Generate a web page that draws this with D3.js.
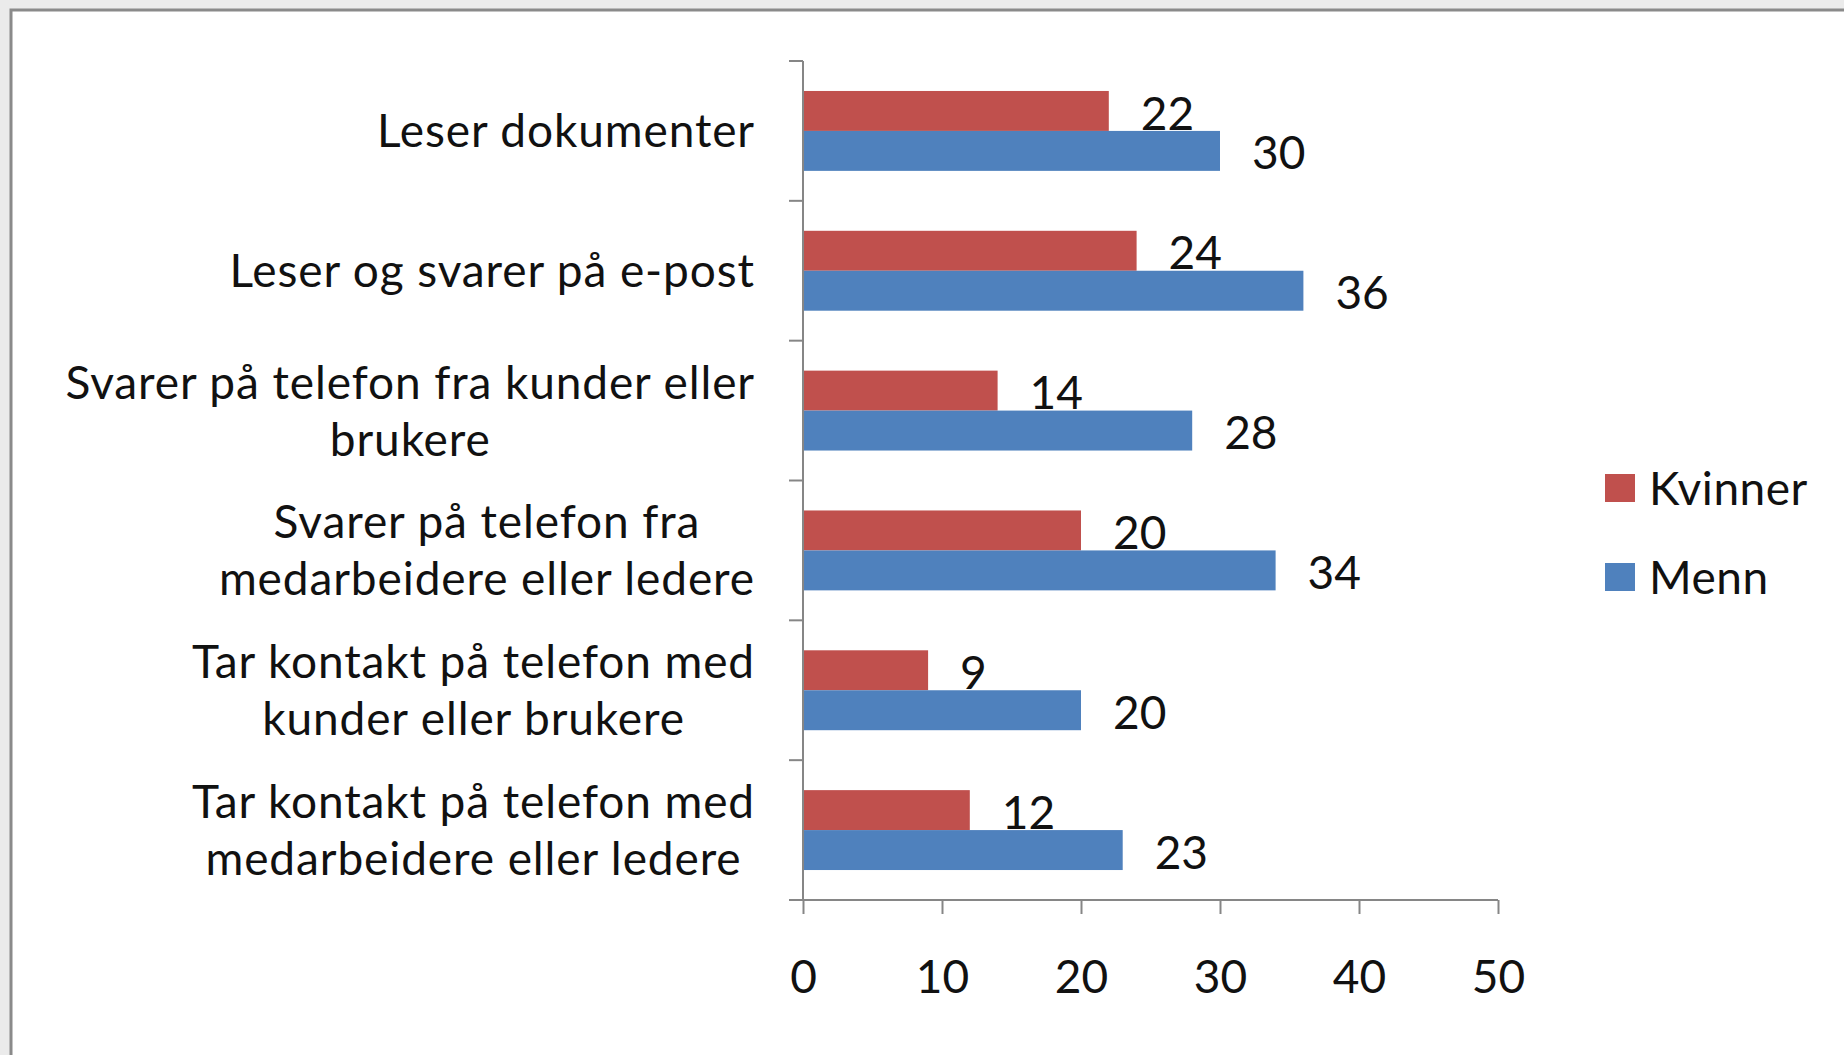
<!DOCTYPE html>
<html>
<head>
<meta charset="utf-8">
<script src="https://cdn.jsdelivr.net/npm/d3@7"></script>
<style>
  body { margin: 0; background: #ebebeb; }
  svg { display: block; }
  text { font-family: Lato, "Open Sans", sans-serif; fill: #111; }
</style>
</head>
<body>
<div id="vis"></div>
<script>
const W = 1844, H = 1055;

// data
const categories = [
  ['Leser dokumenter'],
  ['Leser og svarer på e-post'],
  ['Svarer på telefon fra kunder eller', 'brukere'],
  ['Svarer på telefon fra', 'medarbeidere eller ledere'],
  ['Tar kontakt på telefon med', 'kunder eller brukere'],
  ['Tar kontakt på telefon med', 'medarbeidere eller ledere']
];
const seriesNames = ['Kvinner', 'Menn'];
const kvinner = [22, 24, 14, 20, 9, 12];
const menn = [30, 36, 28, 34, 20, 23];
const xTicks = [0, 10, 20, 30, 40, 50];
const colors = ['#C0504D', '#4F81BD'];

const keys = categories.map(c => c.join(' '));
const values = [kvinner, menn];

const plot = {left: 803, right: 1498, top: 61, bottom: 900};
const fontSize = 46;

const svg = d3.select('#vis')
  .append('svg')
  .attr('width', W)
  .attr('height', H);

// chart frame
svg.append('rect')
  .attr('x', 11).attr('y', 10)
  .attr('width', W + 20).attr('height', H + 20)
  .attr('fill', '#fff')
  .attr('stroke', '#8a8a8a')
  .attr('stroke-width', 3);

const x = d3.scaleLinear()
  .domain([0, 50])
  .range([plot.left, plot.right]);

const y = d3.scaleBand()
  .domain(keys)
  .range([plot.top, plot.bottom]);

const ySub = d3.scaleBand()
  .domain(seriesNames)
  .range([0, y.bandwidth()])
  .paddingOuter(0.75);

// bars
const rows = keys.map((k, i) => ({key: k, vals: seriesNames.map((s, j) => ({s, j, v: values[j][i]}))}));

const groups = svg.selectAll('g.cat')
  .data(rows)
  .enter()
  .append('g')
  .attr('class', 'cat')
  .attr('transform', d => `translate(0,${y(d.key)})`);

groups.selectAll('rect')
  .data(d => d.vals)
  .enter()
  .append('rect')
  .attr('x', x(0))
  .attr('y', d => ySub(d.s))
  .attr('width', d => x(d.v) - x(0))
  .attr('height', ySub.bandwidth())
  .attr('fill', d => colors[d.j]);

groups.selectAll('text.val')
  .data(d => d.vals)
  .enter()
  .append('text')
  .attr('class', 'val')
  .attr('x', d => x(d.v) + 32)
  .attr('y', d => ySub(d.s) + ySub.bandwidth() / 2 + 2)
  .attr('dy', '0.36em')
  .style('font-size', fontSize + 'px')
  .text(d => d.v);

// y axis
const yAxis = d3.axisLeft(y)
  .tickValues([])
  .tickSizeOuter(0);
const yAxisG = svg.append('g')
  .attr('transform', `translate(${plot.left},0)`)
  .call(yAxis);
yAxisG.select('.domain').attr('stroke', '#868686').attr('stroke-width', 2)
  .attr('d', `M0,${plot.top}V${plot.bottom}`);
yAxisG.selectAll('line.bd')
  .data(d3.range(keys.length + 1))
  .enter()
  .append('line')
  .attr('class', 'bd')
  .attr('x1', -14).attr('x2', 0)
  .attr('y1', i => plot.top + i * y.step())
  .attr('y2', i => plot.top + i * y.step())
  .attr('stroke', '#868686')
  .attr('stroke-width', 2);

// x axis
const xAxis = d3.axisBottom(x)
  .tickValues(xTicks)
  .tickSize(14)
  .tickSizeOuter(0)
  .tickPadding(46);
const xAxisG = svg.append('g')
  .attr('transform', `translate(0,${plot.bottom})`)
  .call(xAxis);
xAxisG.select('.domain').attr('stroke', '#868686').attr('stroke-width', 2)
  .attr('d', `M${plot.left - 14},0H${plot.right}`);
xAxisG.selectAll('.tick line').attr('stroke', '#868686').attr('stroke-width', 2);
xAxisG.selectAll('.tick text')
  .style('font-size', fontSize + 'px')
  .style('font-family', 'Lato, "Open Sans", sans-serif')
  .attr('fill', '#111');

// category labels, centred block with right edge at labelRight
const labelRight = 755;
const lineGap = 57;
svg.selectAll('g.lab')
  .data(categories)
  .enter()
  .append('g')
  .attr('class', 'lab')
  .each(function(lines, i) {
    const g = d3.select(this);
    const cy = y(keys[i]) + y.bandwidth() / 2;
    const texts = lines.map((t, k) => g.append('text')
      .attr('y', cy + (k - (lines.length - 1) / 2) * lineGap)
      .attr('dy', '0.36em')
      .attr('text-anchor', 'middle')
      .style('font-size', fontSize + 'px')
      .style('letter-spacing', '0.9px')
      .text(t));
    const maxW = d3.max(texts, t => t.node().getComputedTextLength());
    texts.forEach(t => t.attr('x', labelRight - maxW / 2));
  });

// legend
const legend = svg.append('g');
seriesNames.forEach((s, j) => {
  const ly = 488 + j * 89;
  legend.append('rect')
    .attr('x', 1605).attr('y', ly - 14)
    .attr('width', 30).attr('height', 28)
    .attr('fill', colors[j]);
  legend.append('text')
    .attr('x', 1649).attr('y', ly)
    .attr('dy', '0.36em')
    .style('font-size', fontSize + 'px')
    .style('letter-spacing', '0.5px')
    .text(s);
});
</script>
</body>
</html>
